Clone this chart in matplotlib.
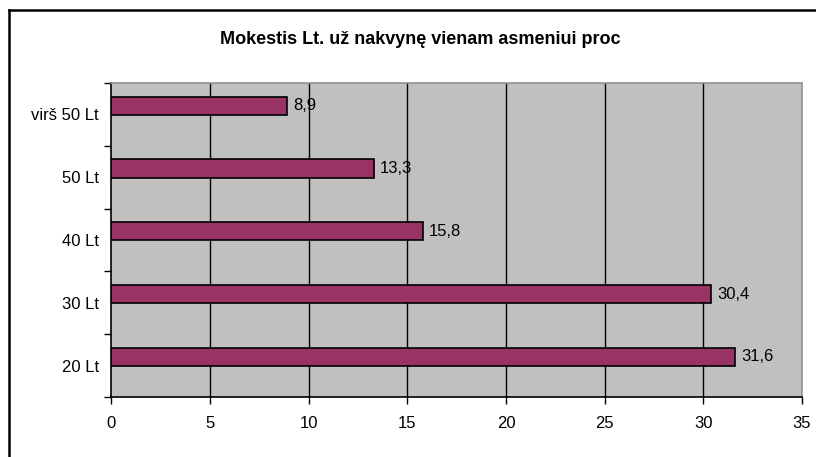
import matplotlib
matplotlib.use("Agg")
import matplotlib.pyplot as plt
from matplotlib.lines import Line2D
import numpy as np

plt.rcParams['font.family'] = ['Liberation Sans', 'DejaVu Sans']

categories = ["20 Lt", "30 Lt", "40 Lt", "50 Lt", "virš 50 Lt"]
values = [31.6, 30.4, 15.8, 13.3, 8.9]
value_labels = ["31,6", "30,4", "15,8", "13,3", "8,9"]
x_ticks = [0, 5, 10, 15, 20, 25, 30, 35]
title = "Mokestis Lt. už nakvynę vienam asmeniui proc"

W, H = 816, 457
fig = plt.figure(figsize=(W / 100, H / 100), dpi=100)

# outer chart border (only top and left are visible in the crop)
bx, by = 8.5 / W, 1 - 10 / H
fig.add_artist(Line2D([bx, 1.01], [by, by], transform=fig.transFigure, color='black', linewidth=1.8))
fig.add_artist(Line2D([bx, bx], [-0.01, by], transform=fig.transFigure, color='black', linewidth=1.8))

left, right, top, bottom = 111.5, 802, 83, 397
ax = fig.add_axes([left / W, 1 - bottom / H, (right - left) / W, (bottom - top) / H])
ax.set_facecolor('#C0C0C0')

y = np.arange(len(categories))
offset = 0.14
ax.barh(y + offset, values, height=0.29, color='#993366', edgecolor='black', linewidth=1.2, zorder=3)

for yi, v, lab in zip(y, values, value_labels):
    ax.text(v + 0.3, yi + offset, lab, va='center', ha='left', fontsize=12, zorder=4)

ax.set_xlim(0, 35)
ax.set_ylim(-0.5, len(categories) - 0.5)
ax.set_xticks(x_ticks)
ax.set_xticklabels([str(t) for t in x_ticks], fontsize=12)
ax.set_yticks(y)
ax.set_yticklabels(categories, fontsize=12)
ax.tick_params(axis='y', length=0, pad=9)
ax.set_yticks(np.arange(-0.5, len(categories)), minor=True)
ax.tick_params(axis='y', which='minor', length=5, width=1)
ax.tick_params(axis='x', length=5, width=1, pad=9)

for t in x_ticks[1:-1]:
    ax.axvline(t, color='black', linewidth=1, zorder=1)

for s in ['top', 'right']:
    ax.spines[s].set_color('#909090')
    ax.spines[s].set_linewidth(1.2)
for s in ['left', 'bottom']:
    ax.spines[s].set_color('black')
    ax.spines[s].set_linewidth(1.2)

fig.text(420 / W, 1 - 40 / H, title, ha='center', va='center', fontsize=13, fontweight='bold')

fig.savefig('out.png', dpi=100)
